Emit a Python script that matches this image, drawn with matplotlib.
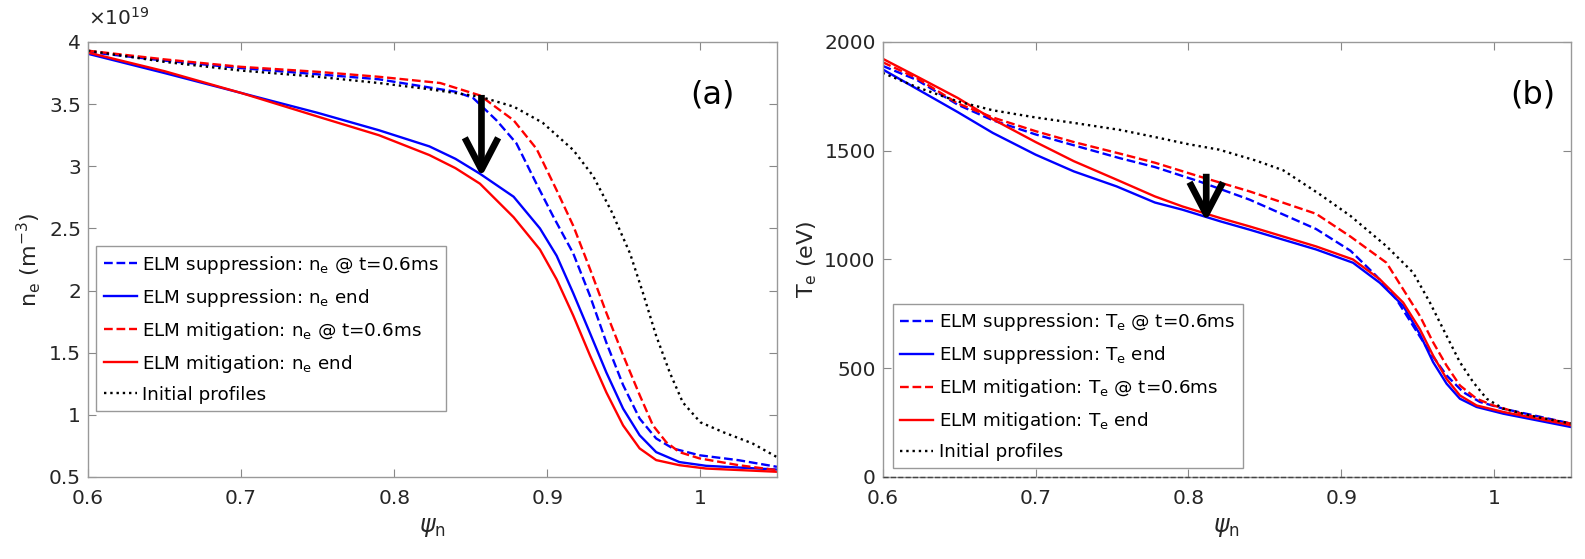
import matplotlib
matplotlib.use("Agg")
import matplotlib.pyplot as plt
from matplotlib.ticker import FuncFormatter

plt.rcParams["font.family"] = ["DejaVu Sans"]
plt.rcParams["mathtext.default"] = "regular"

# ---- panel (a): electron density, units of 1e19 m^-3 ----
psi_init_a = [0.60, 0.65, 0.70, 0.75, 0.79, 0.823, 0.856, 0.878, 0.897, 0.917,
              0.930, 0.942, 0.954, 0.9625, 0.971, 0.980, 0.9885, 1.000, 1.015,
              1.034, 1.05]
ne_init = [3.93, 3.84, 3.77, 3.72, 3.67, 3.62, 3.56, 3.48, 3.35, 3.13,
           2.92, 2.635, 2.30, 1.98, 1.64, 1.34, 1.10, 0.94, 0.86, 0.77, 0.66]

psi_mit06_a = [0.60, 0.65, 0.70, 0.75, 0.79, 0.83, 0.856, 0.878, 0.893, 0.906,
               0.917, 0.928, 0.9386, 0.9495, 0.9603, 0.969, 0.9777, 0.9863,
               0.9993, 1.025, 1.05]
ne_mit06 = [3.93, 3.86, 3.80, 3.76, 3.72, 3.67, 3.57, 3.37, 3.14, 2.81,
            2.52, 2.17, 1.82, 1.48, 1.16, 0.915, 0.78, 0.70, 0.65, 0.595, 0.555]

psi_sup06_a = [0.60, 0.65, 0.70, 0.75, 0.79, 0.84, 0.8515, 0.8668, 0.8798,
               0.8929, 0.9037, 0.9169, 0.9278, 0.9386, 0.9495, 0.9603, 0.9711,
               0.982, 0.9993, 1.025, 1.05]
ne_sup06 = [3.92, 3.85, 3.79, 3.74, 3.70, 3.60, 3.55, 3.37, 3.185,
            2.86, 2.60, 2.30, 1.96, 1.58, 1.24, 0.97, 0.81,
            0.73, 0.675, 0.635, 0.582]

psi_end_a = [0.60, 0.65, 0.70, 0.75, 0.79, 0.823, 0.84, 0.856, 0.878, 0.8952,
             0.9061, 0.9169, 0.9278, 0.9386, 0.9495, 0.9603, 0.9711, 0.9863,
             1.0037, 1.05]
ne_sup_end = [3.905, 3.75, 3.59, 3.43, 3.29, 3.16, 3.06, 2.94, 2.755, 2.50,
              2.28, 1.98, 1.66, 1.34, 1.05, 0.836, 0.70, 0.62, 0.59, 0.56]
ne_mit_end = [3.915, 3.765, 3.59, 3.40, 3.25, 3.09, 2.985, 2.86, 2.59, 2.33,
              2.09, 1.80, 1.48, 1.18, 0.915, 0.73, 0.636, 0.595, 0.568, 0.542]

# ---- panel (b): electron temperature, eV ----
psi_init_b = [0.60, 0.6225, 0.649, 0.672, 0.70, 0.725, 0.755, 0.778, 0.80, 0.82,
              0.844, 0.862, 0.8858, 0.906, 0.9295, 0.947, 0.9579, 0.9688,
              0.9775, 0.9862, 0.995, 1.0059, 1.0277, 1.05]
te_init = [1858, 1792, 1727, 1686, 1653, 1628, 1596, 1563, 1530, 1505,
           1455, 1410, 1300, 1200, 1061, 939, 802, 649,
           528, 436, 360, 314, 276, 246]

psi_mit06_b = [0.60, 0.6225, 0.649, 0.672, 0.70, 0.725, 0.755, 0.778, 0.807,
               0.84, 0.8835, 0.906, 0.9295, 0.9404, 0.9513, 0.96, 0.9688,
               0.9775, 0.9884, 0.9993, 1.0212, 1.05]
te_mit06 = [1907, 1833, 1718, 1653, 1590, 1540, 1487, 1445, 1382,
            1313, 1210, 1105, 985, 863, 741, 619, 512,
            421, 360, 329, 284, 246]

psi_sup06_b = [0.60, 0.6225, 0.649, 0.672, 0.70, 0.725, 0.755, 0.778, 0.807,
               0.84, 0.8835, 0.906, 0.9229, 0.936, 0.9469, 0.9579, 0.9688,
               0.9797, 0.9906, 1.0059, 1.05]
te_sup06 = [1890, 1825, 1712, 1640, 1575, 1525, 1466, 1425, 1359,
            1275, 1140, 1040, 924, 817, 695, 573, 467,
            390, 345, 314, 246]

psi_end_b = [0.60, 0.6225, 0.649, 0.672, 0.70, 0.725, 0.753, 0.778, 0.796,
             0.821, 0.84, 0.8835, 0.9076, 0.9251, 0.9404, 0.9513, 0.96,
             0.9688, 0.9775, 0.9884, 1.0059, 1.05]
te_mit_end = [1923, 1841, 1743, 1645, 1540, 1452, 1367, 1290, 1244,
              1190, 1152, 1060, 1000, 909, 802, 680, 558,
              451, 375, 329, 299, 238]
te_sup_end = [1874, 1784, 1678, 1582, 1482, 1405, 1336, 1262, 1229,
              1175, 1137, 1046, 985, 893, 787, 657, 528,
              429, 360, 322, 291, 230]

xticks = [0.6, 0.7, 0.8, 0.9, 1.0]
yticks_a = [0.5, 1, 1.5, 2, 2.5, 3, 3.5, 4]
yticks_b = [0, 500, 1000, 1500, 2000]

# arrows: (psi, start value, end value)
arrow_a = (0.857, 3.574, 2.914)
arrow_b = (0.8116, 1394, 1175)

fig = plt.figure(figsize=(15.85, 5.59), dpi=100)
ax1 = fig.add_axes([0.0555, 0.1467, 0.4347, 0.7782])
ax2 = fig.add_axes([0.5569, 0.1467, 0.4341, 0.7782])

lw = 1.7
gfmt = FuncFormatter(lambda v, p: "%g" % v)


def style_axes(ax):
    ax.set_xlim(0.6, 1.05)
    ax.set_xticks(xticks)
    ax.xaxis.set_major_formatter(gfmt)
    ax.yaxis.set_major_formatter(gfmt)
    ax.tick_params(direction="in", top=True, right=True, length=6,
                   width=0.8, color="#888888", labelsize=14.5,
                   labelcolor="#262626", pad=5)
    ax.tick_params(axis="x", pad=8.5)
    for s in ax.spines.values():
        s.set_color("#999999")
        s.set_linewidth(1.0)
    ax.set_xlabel(r"$\mathit{\psi}_{n}$", fontsize=17, color="#262626",
                  labelpad=5)


def add_legend(ax, anchor):
    leg = ax.legend(loc="lower left", bbox_to_anchor=anchor, fontsize=13.2,
                    frameon=True, fancybox=False, edgecolor="#999999",
                    framealpha=1, handlelength=1.8, handletextpad=0.3,
                    labelspacing=0.6, borderpad=0.4, borderaxespad=0)
    leg.get_frame().set_linewidth(1.0)
    return leg


def draw_arrow(ax, spec):
    x, y0, y1 = spec
    ax.annotate("", xy=(x, y1), xytext=(x, y0),
                arrowprops=dict(arrowstyle="->,head_length=1.15,head_width=0.6",
                                lw=4.8, color="black", mutation_scale=20,
                                shrinkA=0, shrinkB=0, capstyle="butt",
                                joinstyle="round"))


# panel (a)
ax1.plot(psi_sup06_a, ne_sup06, "--", color="blue", lw=lw,
         label=r"ELM suppression: n$_{e}$ @ t=0.6ms")
ax1.plot(psi_end_a, ne_sup_end, "-", color="blue", lw=lw,
         label=r"ELM suppression: n$_{e}$ end")
ax1.plot(psi_mit06_a, ne_mit06, "--", color="red", lw=lw,
         label=r"ELM mitigation: n$_{e}$ @ t=0.6ms")
ax1.plot(psi_end_a, ne_mit_end, "-", color="red", lw=lw,
         label=r"ELM mitigation: n$_{e}$ end")
ax1.plot(psi_init_a, ne_init, ":", color="black", lw=lw,
         label="Initial profiles")
style_axes(ax1)
ax1.set_ylim(0.5, 4)
ax1.set_yticks(yticks_a)
ax1.set_ylabel(r"n$_{e}$ (m$^{-3}$)", fontsize=16, color="#262626")
ax1.text(0.0, 1.03, r"$\times$10$^{19}$", transform=ax1.transAxes,
         fontsize=14.5, color="#262626", ha="left", va="bottom")
ax1.text(0.907, 0.878, "(a)", transform=ax1.transAxes, fontsize=23,
         ha="center", va="center")
draw_arrow(ax1, arrow_a)
add_legend(ax1, (0.012, 0.152))

# panel (b)
ax2.plot(psi_sup06_b, te_sup06, "--", color="blue", lw=lw,
         label=r"ELM suppression: T$_{e}$ @ t=0.6ms")
ax2.plot(psi_end_b, te_sup_end, "-", color="blue", lw=lw,
         label=r"ELM suppression: T$_{e}$ end")
ax2.plot(psi_mit06_b, te_mit06, "--", color="red", lw=lw,
         label=r"ELM mitigation: T$_{e}$ @ t=0.6ms")
ax2.plot(psi_end_b, te_mit_end, "-", color="red", lw=lw,
         label=r"ELM mitigation: T$_{e}$ end")
ax2.plot(psi_init_b, te_init, ":", color="black", lw=lw,
         label="Initial profiles")
ax2.axhline(0, color="#444444", lw=1.0, ls="--", clip_on=False, zorder=3)
style_axes(ax2)
ax2.set_ylim(0, 2000)
ax2.set_yticks(yticks_b)
ax2.set_ylabel(r"T$_{e}$ (eV)", fontsize=16, color="#262626")
ax2.text(0.945, 0.878, "(b)", transform=ax2.transAxes, fontsize=23,
         ha="center", va="center")
draw_arrow(ax2, arrow_b)
add_legend(ax2, (0.015, 0.02))

fig.savefig("out.png", dpi=100)
